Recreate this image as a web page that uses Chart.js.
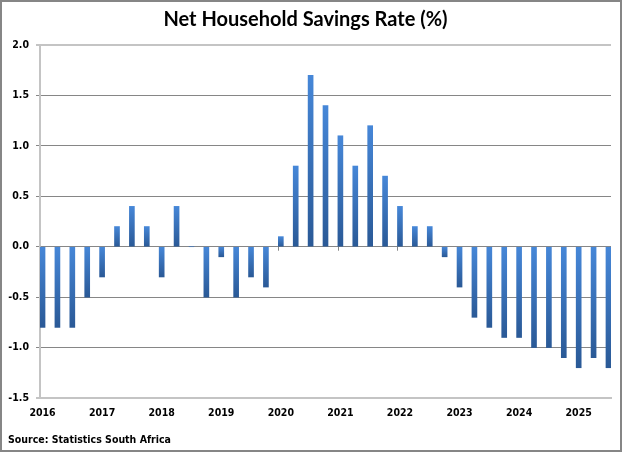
<!DOCTYPE html>
<html>
<head>
<meta charset="utf-8">
<script src="https://cdn.jsdelivr.net/npm/chart.js@4/dist/chart.umd.min.js"></script>
<style>
  html, body { margin: 0; padding: 0; background: #fff; }
  #wrap { width: 624px; height: 453px; position: relative; }
</style>
</head>
<body>
<div id="wrap"><canvas id="savingsChart" width="624" height="453"></canvas></div>
<script>
// Quarterly net household savings rate, 2016 Q1 .. 2025 Q3
const years = [2016, 2017, 2018, 2019, 2020, 2021, 2022, 2023, 2024, 2025];
const savingsRate = [
  -0.8, -0.8, -0.8, -0.5,   // 2016
  -0.3,  0.2,  0.4,  0.2,   // 2017
  -0.3,  0.4,  0.0, -0.5,   // 2018
  -0.1, -0.5, -0.3, -0.4,   // 2019
   0.1,  0.8,  1.7,  1.4,   // 2020
   1.1,  0.8,  1.2,  0.7,   // 2021
   0.4,  0.2,  0.2, -0.1,   // 2022
  -0.4, -0.7, -0.8, -0.9,   // 2023
  -0.9, -1.0, -1.0, -1.1,   // 2024
  -1.2, -1.1, -1.2          // 2025
];
const yTicks = [-1.5, -1.0, -0.5, 0.0, 0.5, 1.0, 1.5, 2.0];

const axisFont = { family: '"DejaVu Sans Condensed", "DejaVu Sans", sans-serif', size: 10.5, weight: 'bold' };

// light at the top of each bar, darker at its bottom
function barFill(ctx) {
  const chart = ctx.chart;
  if (!chart.chartArea || ctx.raw === undefined) return '#3a75c4';
  const y = chart.scales.y;
  const v = ctx.raw.y;
  const top = y.getPixelForValue(Math.max(v, 0));
  const bottom = y.getPixelForValue(Math.min(v, 0));
  if (bottom - top < 1) return '#3a75c4';
  const g = chart.ctx.createLinearGradient(0, top, 0, bottom);
  g.addColorStop(0, '#4687d8');
  g.addColorStop(1, '#2a5996');
  return g;
}

const frameAndSource = {
  id: 'frameAndSource',
  beforeDatasetsDraw(chart) {
    // small year tick marks on the zero line
    const c = chart.ctx, x = chart.scales.x, y = chart.scales.y;
    const y0 = y.getPixelForValue(0);
    c.save();
    c.strokeStyle = '#868686';
    c.lineWidth = 1;
    years.forEach((yr, k) => {
      const px = Math.round(x.getPixelForValue(k * 4) - 2.5) + 0.5;
      c.beginPath();
      c.moveTo(px, y0);
      c.lineTo(px, y0 + 4);
      c.stroke();
    });
    c.restore();
  },
  afterDraw(chart) {
    const c = chart.ctx;
    c.save();
    c.strokeStyle = '#868686';
    c.lineWidth = 2;
    c.strokeRect(1, 1, 620, 450);
    c.fillStyle = '#000';
    c.font = 'bold 10.5px "DejaVu Sans Condensed", "DejaVu Sans", sans-serif';
    c.textAlign = 'left';
    c.textBaseline = 'middle';
    c.fillText('Source: Statistics South Africa', 8, 440);
    c.restore();
  }
};

new Chart(document.getElementById('savingsChart'), {
  type: 'bar',
  data: {
    datasets: [{
      label: 'Net Household Savings Rate (%)',
      data: savingsRate.map((v, i) => ({ x: i, y: v })),
      backgroundColor: barFill,
      borderWidth: 0,
      barThickness: 5
    }]
  },
  options: {
    responsive: false,
    animation: false,
    layout: { padding: { left: 0, right: 13, top: 0, bottom: 0 } },
    plugins: {
      legend: { display: false },
      tooltip: { enabled: false },
      title: {
        display: true,
        text: 'Net Household Savings Rate (%)',
        color: '#000',
        font: { family: 'Lato, "Open Sans", sans-serif', size: 20, weight: 'bold', lineHeight: 1.2 },
        padding: { top: 8, bottom: 13 }
      }
    },
    scales: {
      x: {
        type: 'linear',
        offset: false,
        min: -0.17,
        max: 38.17,
        afterBuildTicks: (scale) => {
          scale.ticks = years.map((yr, k) => ({ value: k * 4 }));
        },
        afterFit: (scale) => { scale.height = 55; },
        grid: { display: false, drawTicks: false, offset: false },
        border: { display: true, color: '#c4c4c4', width: 2 },
        ticks: {
          autoSkip: false,
          maxRotation: 0,
          padding: 9,
          color: '#000',
          font: axisFont,
          callback: (v) => String(years[Math.round(v / 4)])
        }
      },
      y: {
        min: -1.5,
        max: 2.0,
        afterBuildTicks: (scale) => {
          scale.ticks = yTicks.map((v) => ({ value: v }));
        },
        afterFit: (scale) => { scale.width = 40; },
        grid: {
          color: (ctx) => (ctx.tick && (ctx.tick.value === 2 || ctx.tick.value === -1.5)) ? '#c4c4c4' : '#868686',
          lineWidth: (ctx) => (ctx.tick && (ctx.tick.value === 2 || ctx.tick.value === -1.5)) ? 2 : 1,
          tickLength: 4,
          drawTicks: true
        },
        border: { display: true, color: '#c4c4c4', width: 2 },
        ticks: {
          padding: 7,
          color: '#000',
          font: axisFont,
          callback: (v) => v.toFixed(1)
        }
      }
    }
  },
  plugins: [frameAndSource]
});
</script>
</body>
</html>
